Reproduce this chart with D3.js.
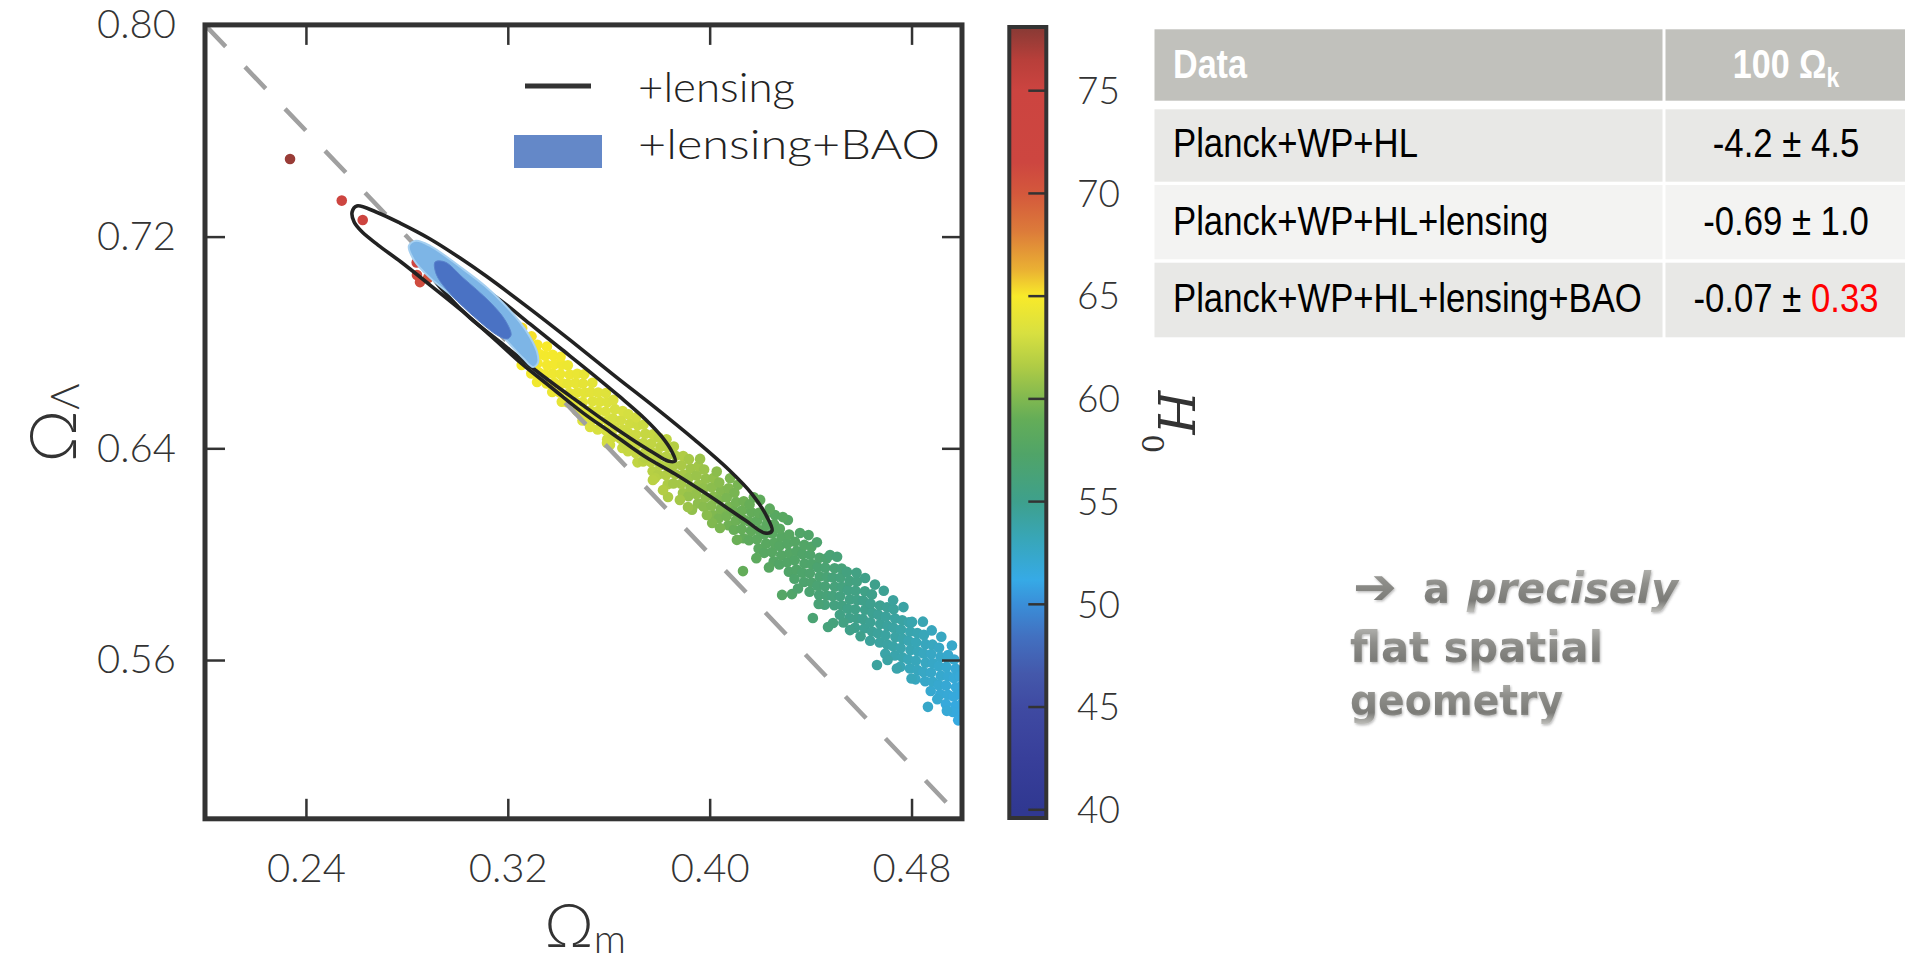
<!DOCTYPE html>
<html>
<head>
<meta charset="utf-8">
<script src="https://cdn.jsdelivr.net/npm/d3@7"></script>
<style>
  html, body { margin: 0; padding: 0; background: #ffffff; overflow: hidden; }
  svg { display: block; }
</style>
</head>
<body>
<svg id="fig" width="1905" height="964"></svg>
<script>
// ---------- data ----------
const xTicks = [0.24, 0.32, 0.40, 0.48];
const yTicks = [0.56, 0.64, 0.72, 0.80];
const h0Ticks = [40, 45, 50, 55, 60, 65, 70, 75];

// colour map of the H0 colour bar (value -> colour)
const h0Stops  = [40, 42.5, 45, 46.6, 48.4, 50, 51.2, 53.2, 55, 57.3, 59, 60, 61.6, 63.2, 65, 66.3, 68.2, 70, 71.5, 75, 76.5, 78];
const h0Colors = ['#303891','#383f9a','#3f4aa2','#4458ab','#4270c0','#3a8ed8','#36aae6','#38a6b8','#3ea08c','#50a468','#64ad58','#80b850','#b0cc45','#d8e040','#f8ea2a','#eab033','#dc7a3a','#d4583c','#cd4640','#cc4440','#b83f3a','#8a3a35'];

// MCMC samples: [Omega_m, Omega_Lambda, H0]
const samples = [
 [0.2337,0.7493,77.5],[0.2542,0.7336,73.0],[0.2625,0.7263,72.5],[0.2839,0.7102,72.0],[0.2840,0.7055,71.2],[0.2852,0.7028,71.0],[0.2884,0.7044,70.5],
 [0.3255,0.6715,64.9],[0.3264,0.6750,65.1],[0.3258,0.6785,65.2],[0.3266,0.6820,65.0],[0.3257,0.6855,65.3],
 [0.3293,0.6683,64.7],[0.3286,0.6718,64.9],[0.3295,0.6753,65.0],[0.3288,0.6788,65.1],[0.3294,0.6823,65.2],
 [0.3316,0.6651,64.6],[0.3324,0.6686,64.8],[0.3318,0.6721,64.9],[0.3325,0.6756,65.0],[0.3317,0.6791,65.1],
 [0.3354,0.6645,64.4],[0.3347,0.6680,64.6],[0.3356,0.6715,64.7],[0.3348,0.6750,64.8],[0.3355,0.6785,65.0],
 [0.3376,0.6613,64.3],[0.3384,0.6648,64.4],[0.3377,0.6683,64.5],[0.3385,0.6718,64.7],[0.3378,0.6753,64.8],
 [0.3414,0.6576,64.0],[0.3407,0.6611,64.2],[0.3416,0.6646,64.3],[0.3408,0.6681,64.4],[0.3415,0.6716,64.5],[0.3409,0.6746,64.7],
 [0.3436,0.6574,63.9],[0.3444,0.6609,64.0],[0.3437,0.6644,64.1],[0.3445,0.6679,64.3],[0.3438,0.6714,64.4],
 [0.3474,0.6542,63.7],[0.3467,0.6577,63.9],[0.3476,0.6612,64.0],[0.3468,0.6647,64.1],[0.3475,0.6682,64.2],
 [0.3496,0.6505,63.5],[0.3504,0.6540,63.7],[0.3497,0.6575,63.8],[0.3505,0.6610,63.9],[0.3498,0.6645,64.0],[0.3503,0.6680,64.1],
 [0.3534,0.6508,63.4],[0.3527,0.6543,63.5],[0.3536,0.6578,63.6],[0.3528,0.6613,63.8],[0.3535,0.6648,63.9],
 [0.3556,0.6471,63.2],[0.3564,0.6506,63.4],[0.3557,0.6541,63.5],[0.3565,0.6576,63.6],[0.3558,0.6611,63.7],
 [0.3594,0.6434,63.0],[0.3587,0.6469,63.2],[0.3596,0.6504,63.3],[0.3588,0.6539,63.4],[0.3595,0.6574,63.5],[0.3589,0.6609,63.6],
 [0.3616,0.6443,62.9],[0.3624,0.6478,63.0],[0.3617,0.6513,63.1],[0.3625,0.6548,63.2],[0.3618,0.6583,63.4],
 [0.3654,0.6401,62.6],[0.3647,0.6436,62.8],[0.3656,0.6471,62.9],[0.3648,0.6506,63.0],[0.3655,0.6541,63.2],
 [0.3676,0.6389,62.5],[0.3684,0.6424,62.7],[0.3677,0.6459,62.8],[0.3685,0.6494,62.9],[0.3678,0.6529,63.1],
 [0.3714,0.6347,62.3],[0.3707,0.6382,62.5],[0.3716,0.6417,62.6],[0.3708,0.6452,62.7],[0.3715,0.6487,62.8],[0.3709,0.6517,63.0],
 [0.3736,0.6350,62.1],[0.3744,0.6385,62.3],[0.3737,0.6420,62.4],[0.3745,0.6455,62.5],[0.3738,0.6490,62.7],
 [0.3774,0.6313,61.9],[0.3767,0.6348,62.1],[0.3776,0.6383,62.2],[0.3768,0.6418,62.3],[0.3775,0.6453,62.5],
 [0.3796,0.6301,61.7],[0.3804,0.6336,61.9],[0.3797,0.6371,62.0],[0.3805,0.6406,62.1],[0.3798,0.6441,62.3],
 [0.3834,0.6264,61.5],[0.3827,0.6299,61.7],[0.3836,0.6334,61.8],[0.3828,0.6369,61.9],[0.3835,0.6404,62.0],[0.3829,0.6434,62.2],
 [0.3856,0.6267,61.2],[0.3864,0.6302,61.4],[0.3857,0.6337,61.5],[0.3865,0.6372,61.6],[0.3858,0.6407,61.8],
 [0.3894,0.6231,61.0],[0.3887,0.6266,61.2],[0.3896,0.6301,61.3],[0.3888,0.6336,61.4],[0.3895,0.6371,61.6],
 [0.3916,0.6219,60.7],[0.3924,0.6254,60.9],[0.3917,0.6289,61.0],[0.3925,0.6324,61.1],[0.3918,0.6359,61.3],
 [0.3954,0.6192,60.5],[0.3947,0.6227,60.7],[0.3956,0.6262,60.8],[0.3948,0.6297,60.9],[0.3955,0.6332,61.1],
 [0.3976,0.6180,60.3],[0.3984,0.6215,60.5],[0.3977,0.6250,60.6],[0.3985,0.6285,60.7],[0.3978,0.6320,60.9],
 [0.4014,0.6148,60.0],[0.4007,0.6183,60.2],[0.4016,0.6218,60.3],[0.4008,0.6253,60.4],[0.4015,0.6288,60.6],
 [0.4036,0.6136,59.7],[0.4044,0.6171,59.9],[0.4037,0.6206,60.0],[0.4045,0.6241,60.1],[0.4038,0.6271,60.3],
 [0.4074,0.6109,59.4],[0.4067,0.6144,59.6],[0.4076,0.6179,59.7],[0.4068,0.6214,59.8],[0.4075,0.6249,60.0],
 [0.4096,0.6092,59.1],[0.4104,0.6127,59.3],[0.4097,0.6162,59.4],[0.4105,0.6197,59.5],[0.4098,0.6232,59.7],
 [0.4134,0.6060,58.8],[0.4127,0.6095,59.0],[0.4136,0.6130,59.1],[0.4128,0.6165,59.2],[0.4135,0.6200,59.4],
 [0.4156,0.6053,58.5],[0.4164,0.6088,58.7],[0.4157,0.6123,58.8],[0.4165,0.6158,58.9],[0.4158,0.6188,59.1],
 [0.4194,0.6021,58.2],[0.4187,0.6056,58.4],[0.4196,0.6091,58.5],[0.4188,0.6126,58.6],[0.4195,0.6156,58.8],
 [0.4216,0.6005,57.9],[0.4224,0.6040,58.1],[0.4217,0.6075,58.2],[0.4225,0.6110,58.3],[0.4218,0.6145,58.5],
 [0.4254,0.5973,57.7],[0.4247,0.6008,57.9],[0.4256,0.6043,58.0],[0.4248,0.6078,58.1],[0.4255,0.6113,58.3],
 [0.4276,0.5961,57.5],[0.4284,0.5996,57.7],[0.4277,0.6031,57.8],[0.4285,0.6066,57.9],[0.4278,0.6096,58.1],
 [0.4314,0.5934,57.3],[0.4307,0.5969,57.5],[0.4316,0.6004,57.6],[0.4308,0.6039,57.7],[0.4315,0.6074,57.9],
 [0.4336,0.5907,57.1],[0.4344,0.5942,57.3],[0.4337,0.5977,57.4],[0.4345,0.6012,57.5],[0.4338,0.6047,57.7],
 [0.4374,0.5895,56.9],[0.4367,0.5930,57.1],[0.4376,0.5965,57.2],[0.4368,0.6000,57.3],[0.4375,0.6035,57.5],
 [0.4396,0.5858,56.7],[0.4404,0.5893,56.9],[0.4397,0.5928,57.0],[0.4405,0.5963,57.1],[0.4398,0.5998,57.2],[0.4403,0.6028,57.4],
 [0.4434,0.5846,56.4],[0.4427,0.5881,56.6],[0.4436,0.5916,56.7],[0.4428,0.5951,56.8],[0.4435,0.5986,57.0],
 [0.4456,0.5809,56.1],[0.4464,0.5844,56.3],[0.4457,0.5879,56.4],[0.4465,0.5914,56.5],[0.4458,0.5949,56.6],[0.4463,0.5984,56.8],
 [0.4494,0.5807,55.8],[0.4487,0.5842,56.0],[0.4496,0.5877,56.1],[0.4488,0.5912,56.2],[0.4495,0.5947,56.4],
 [0.4516,0.5771,55.5],[0.4524,0.5806,55.7],[0.4517,0.5841,55.8],[0.4525,0.5876,55.9],[0.4518,0.5911,56.0],[0.4523,0.5946,56.2],
 [0.4554,0.5759,55.2],[0.4547,0.5794,55.4],[0.4556,0.5829,55.5],[0.4548,0.5864,55.6],[0.4555,0.5899,55.8],
 [0.4576,0.5722,55.0],[0.4584,0.5757,55.2],[0.4577,0.5792,55.3],[0.4585,0.5827,55.4],[0.4578,0.5862,55.5],[0.4583,0.5897,55.7],
 [0.4614,0.5720,54.7],[0.4607,0.5755,54.9],[0.4616,0.5790,55.0],[0.4608,0.5825,55.1],[0.4615,0.5860,55.3],
 [0.4636,0.5673,54.4],[0.4644,0.5708,54.6],[0.4637,0.5743,54.7],[0.4645,0.5778,54.8],[0.4638,0.5813,54.9],[0.4643,0.5848,55.1],
 [0.4674,0.5666,54.2],[0.4667,0.5701,54.4],[0.4676,0.5736,54.5],[0.4668,0.5771,54.6],[0.4675,0.5806,54.8],
 [0.4696,0.5624,53.9],[0.4704,0.5659,54.1],[0.4697,0.5694,54.2],[0.4705,0.5729,54.3],[0.4698,0.5764,54.4],[0.4703,0.5799,54.6],
 [0.4734,0.5617,53.7],[0.4727,0.5652,53.9],[0.4736,0.5687,54.0],[0.4728,0.5722,54.1],[0.4735,0.5757,54.2],[0.4729,0.5792,54.4],
 [0.4756,0.5575,53.4],[0.4764,0.5610,53.6],[0.4757,0.5645,53.7],[0.4765,0.5680,53.8],[0.4758,0.5715,53.9],[0.4763,0.5750,54.1],
 [0.4794,0.5568,53.1],[0.4787,0.5603,53.3],[0.4796,0.5638,53.4],[0.4788,0.5673,53.5],[0.4795,0.5708,53.6],[0.4789,0.5743,53.8],
 [0.4816,0.5527,52.8],[0.4824,0.5562,53.0],[0.4817,0.5597,53.1],[0.4825,0.5632,53.2],[0.4818,0.5667,53.3],[0.4823,0.5702,53.5],
 [0.4854,0.5520,52.5],[0.4847,0.5555,52.7],[0.4856,0.5590,52.8],[0.4848,0.5625,52.9],[0.4855,0.5660,53.0],[0.4849,0.5695,53.2],
 [0.4876,0.5483,52.2],[0.4884,0.5518,52.4],[0.4877,0.5553,52.5],[0.4885,0.5588,52.6],[0.4878,0.5623,52.7],[0.4883,0.5658,52.9],
 [0.4914,0.5471,52.0],[0.4907,0.5506,52.2],[0.4916,0.5541,52.3],[0.4908,0.5576,52.4],[0.4915,0.5611,52.5],[0.4909,0.5646,52.7],
 [0.4936,0.5434,51.7],[0.4944,0.5469,51.9],[0.4937,0.5504,52.0],[0.4945,0.5539,52.1],[0.4938,0.5574,52.2],[0.4943,0.5609,52.4],
 [0.4974,0.5427,51.5],[0.4967,0.5462,51.7],[0.4976,0.5497,51.8],[0.4968,0.5532,51.9],[0.4975,0.5567,52.0],[0.4969,0.5602,52.2],
 [0.4993,0.5399,51.3],[0.4998,0.5434,51.5],[0.4994,0.5469,51.6],[0.4999,0.5504,51.7],[0.4992,0.5539,51.8],
 // sparse samples around the edges of the band
 [0.4081,0.6287,59.9],[0.4200,0.6205,58.6],[0.4259,0.6148,58.0],[0.4310,0.6129,57.7],[0.4358,0.6080,57.4],
 [0.4477,0.5997,56.5],[0.4544,0.5933,55.8],[0.4616,0.5910,55.2],[0.4727,0.5826,54.3],[0.4802,0.5744,53.6],[0.4945,0.5619,52.3],
 [0.3962,0.6360,60.9],[0.4028,0.6312,60.4],[0.4112,0.6262,59.7],[0.4175,0.6215,59.0],[0.4238,0.6172,58.4],[0.4290,0.6140,58.0],
 [0.4392,0.6072,57.3],[0.4425,0.6045,57.0],[0.4505,0.5990,56.3],[0.4582,0.5930,55.6],[0.4655,0.5885,55.0],[0.4690,0.5862,54.7],
 [0.4768,0.5800,54.0],[0.4845,0.5745,53.4],[0.4880,0.5712,53.0],[0.4918,0.5688,52.8],[0.4960,0.5655,52.4],
 [0.4132,0.5936,58.9],[0.4287,0.5846,57.6],[0.4326,0.5849,57.3],[0.4409,0.5759,56.6],[0.4469,0.5725,56.1],[0.4489,0.5740,56.0],
 [0.4663,0.5581,54.3],[0.4556,0.5713,55.2],[0.4865,0.5423,52.5],[0.4964,0.5404,51.6],
 [0.3662,0.6420,62.4],[0.3742,0.6365,61.9],[0.3930,0.6168,60.6],[0.4010,0.6118,60.0],[0.4185,0.5985,58.4],[0.4235,0.5950,57.9],
 [0.4350,0.5870,57.0],[0.4432,0.5812,56.4],[0.4530,0.5742,55.6],[0.4598,0.5690,55.0],[0.4705,0.5600,54.0],[0.4742,0.5568,53.7],
 [0.4800,0.5530,53.1],[0.4902,0.5452,52.2],[0.4940,0.5408,51.9],[0.4985,0.5372,51.4],
 [0.3605,0.6413,62.9],[0.3783,0.6288,61.9],[0.3835,0.6216,61.5],[0.3914,0.6178,60.9],[0.3989,0.6148,60.3],[0.4041,0.6099,59.8],
 [0.4108,0.6054,59.2],[0.3498,0.6518,63.6],[0.3526,0.6481,63.4],[0.3593,0.6420,63.0],[0.3775,0.6280,62.0],[0.3815,0.6242,61.7],[0.3882,0.6205,61.2]
];

// confidence contours (Omega_m, Omega_Lambda)
const lensing95 = [[0.2583,0.7293],[0.2602,0.7316],[0.2678,0.7293],[0.2773,0.7251],[0.2892,0.7191],[0.3011,0.7119],[0.3114,0.7051],[0.3288,0.6927],[0.3451,0.6806],[0.3625,0.6673],[0.3787,0.6552],[0.3942,0.6431],[0.4077,0.6318],[0.4168,0.6227],[0.4227,0.6141],[0.4247,0.6088],[0.4219,0.6080],[0.4140,0.6129],[0.3982,0.6231],[0.3863,0.6303],[0.3740,0.6371],[0.3605,0.6462],[0.3498,0.6534],[0.3375,0.6628],[0.3256,0.6719],[0.3137,0.6821],[0.3019,0.6919],[0.2892,0.7017],[0.2777,0.7104],[0.2686,0.7168],[0.2622,0.7218],[0.2591,0.7255]];
const lensing68 = [[0.2884,0.7104],[0.2931,0.7104],[0.3050,0.7036],[0.3169,0.6961],[0.3288,0.6870],[0.3407,0.6779],[0.3526,0.6688],[0.3645,0.6594],[0.3744,0.6511],[0.3811,0.6443],[0.3851,0.6386],[0.3863,0.6352],[0.3835,0.6352],[0.3772,0.6386],[0.3684,0.6439],[0.3585,0.6503],[0.3486,0.6571],[0.3387,0.6639],[0.3288,0.6711],[0.3169,0.6802],[0.3050,0.6893],[0.2963,0.6976],[0.2904,0.7044]];
const bao95 = [[0.2808,0.7165],[0.2836,0.7184],[0.2892,0.7165],[0.3022,0.7078],[0.3110,0.7013],[0.3181,0.6949],[0.3248,0.6877],[0.3288,0.6821],[0.3316,0.6764],[0.3320,0.6726],[0.3300,0.6707],[0.3260,0.6741],[0.3157,0.6843],[0.3022,0.6945],[0.2892,0.7044],[0.2828,0.7112]];
const bao68 = [[0.2912,0.7104],[0.2951,0.7104],[0.3022,0.7045],[0.3129,0.6953],[0.3189,0.6885],[0.3213,0.6828],[0.3197,0.6813],[0.3157,0.6828],[0.3050,0.6911],[0.2959,0.6998],[0.2916,0.7059]];

// spatially flat models: Omega_m + Omega_Lambda = 1
const flatLine = [[0.2, 0.8], [0.5, 0.5]];

const legendLabels = ['+lensing', '+lensing+BAO'];

const tableHead = ['Data', '100 Ω', 'k'];
const tableData = ['Planck+WP+HL', 'Planck+WP+HL+lensing', 'Planck+WP+HL+lensing+BAO'];
const tableMean = ['-4.2', '-0.69', '-0.07'];
const tableErr  = ['4.5', '1.0', '0.33'];

const noteWords = ['➔', 'a', 'precisely', 'flat spatial', 'geometry'];

// ---------- layout ----------
const svg = d3.select('#fig');
const defs = svg.append('defs');
const X0 = 205, X1 = 962, Y0 = 24.9, Y1 = 818.8;
const x = d3.scaleLinear().domain([0.2, 0.5]).range([X0, X1]);
const y = d3.scaleLinear().domain([0.5, 0.8]).range([Y1, Y0]);
const h0Color = d3.scaleLinear().domain(h0Stops).range(h0Colors).clamp(true);
const tickFont = 'Lato, "Open Sans", sans-serif';

defs.append('clipPath').attr('id', 'plotClip')
  .append('rect').attr('x', X0).attr('y', Y0).attr('width', X1 - X0).attr('height', Y1 - Y0);

const plot = svg.append('g').attr('clip-path', 'url(#plotClip)');

// samples coloured by H0
plot.append('g').selectAll('circle').data(samples).join('circle')
  .attr('cx', d => x(d[0])).attr('cy', d => y(d[1])).attr('r', 5.3)
  .attr('fill', d => h0Color(d[2]));

// flat-universe line
plot.append('path').datum(flatLine)
  .attr('d', d3.line().x(d => x(d[0])).y(d => y(d[1])))
  .attr('fill', 'none').attr('stroke', '#a0a0a0').attr('stroke-width', 4.5)
  .attr('stroke-dasharray', '30,28');

const closed = d3.line().x(d => x(d[0])).y(d => y(d[1])).curve(d3.curveCatmullRomClosed.alpha(0.5));

// +lensing contours
plot.append('g').selectAll('path').data([lensing95, lensing68]).join('path')
  .attr('d', closed).attr('fill', 'none').attr('stroke', '#222').attr('stroke-width', 3.6);

// +lensing+BAO filled contours
plot.append('path').datum(bao95).attr('d', closed)
  .attr('fill', '#7db5e6').attr('stroke', '#a6d0f1').attr('stroke-width', 2);
plot.append('path').datum(bao68).attr('d', closed)
  .attr('fill', '#4a72c4').attr('stroke', '#5a82cc').attr('stroke-width', 1);

// axes with inward ticks
function styleAxis(g) {
  g.select('.domain').remove();
  g.selectAll('.tick line').attr('stroke', '#333').attr('stroke-width', 2.5);
  g.selectAll('.tick text').attr('fill', '#333').style('font-family', tickFont)
    .style('font-weight', 300).style('font-size', '40px');
}
svg.append('g').attr('transform', `translate(0,${Y1})`)
  .call(d3.axisBottom(x).tickValues(xTicks).tickSize(-20).tickPadding(35).tickFormat(d3.format('.2f')))
  .call(styleAxis);
svg.append('g').attr('transform', `translate(${X0},0)`)
  .call(d3.axisLeft(y).tickValues(yTicks).tickSize(-20).tickPadding(29).tickFormat(d3.format('.2f')))
  .call(styleAxis);
svg.append('g').attr('transform', `translate(0,${Y0})`)
  .call(d3.axisTop(x).tickValues(xTicks).tickSize(-20).tickFormat(''))
  .call(styleAxis);
svg.append('g').attr('transform', `translate(${X1},0)`)
  .call(d3.axisRight(y).tickValues(yTicks).tickSize(-20).tickFormat(''))
  .call(styleAxis);

svg.append('rect').attr('x', X0).attr('y', Y0).attr('width', X1 - X0).attr('height', Y1 - Y0)
  .attr('fill', 'none').attr('stroke', '#333').attr('stroke-width', 5);

// axis labels
const labelFont = 'Lato, "DejaVu Sans", sans-serif';
const xl = svg.append('text').attr('x', 585).attr('y', 947).attr('text-anchor', 'middle')
  .attr('fill', '#333').style('font-family', labelFont).style('font-weight', 300).style('font-size', '62px');
xl.append('tspan').text('Ω');
xl.append('tspan').attr('dy', 6).style('font-size', '40px').text('m');

const yl = svg.append('text').attr('transform', 'translate(76,423) rotate(-90)').attr('text-anchor', 'middle')
  .attr('fill', '#333').style('font-family', labelFont).style('font-weight', 300).style('font-size', '66px');
yl.append('tspan').text('Ω');
yl.append('tspan').attr('dy', 3).style('font-size', '40px').text('Λ');

// ---------- colour bar ----------
const CB0 = 27, CB1 = 818, CBX = 1009.3, CBW = 37;
const cy = d3.scaleLinear().domain([39.6, 78.1]).range([CB1, CB0]);
const grad = defs.append('linearGradient').attr('id', 'h0Grad')
  .attr('gradientUnits', 'userSpaceOnUse').attr('x1', 0).attr('x2', 0).attr('y1', CB0).attr('y2', CB1);
grad.selectAll('stop').data(h0Stops.map((v, i) => [v, h0Colors[i]]).reverse()).join('stop')
  .attr('offset', d => Math.max(0, Math.min(1, (cy(d[0]) - CB0) / (CB1 - CB0))))
  .attr('stop-color', d => d[1]);
svg.append('rect').attr('x', CBX).attr('y', CB0).attr('width', CBW).attr('height', CB1 - CB0)
  .attr('fill', 'url(#h0Grad)').attr('stroke', '#333').attr('stroke-width', 4);
svg.append('g').selectAll('line').data(h0Ticks).join('line')
  .attr('x1', CBX + CBW).attr('x2', CBX + CBW - 18).attr('y1', d => cy(d)).attr('y2', d => cy(d))
  .attr('stroke', '#333').attr('stroke-width', 2.5);
svg.append('g').selectAll('text').data(h0Ticks).join('text')
  .attr('x', 1077).attr('y', d => cy(d)).attr('dy', '0.36em').attr('fill', '#333')
  .style('font-family', tickFont).style('font-weight', 300).style('font-size', '37px')
  .text(d => d);
const hl = svg.append('text').attr('transform', 'translate(1158,422) rotate(90)').attr('text-anchor', 'middle')
  .attr('fill', '#333').style('font-family', '"DejaVu Serif", serif');
hl.append('tspan').style('font-size', '50px').style('font-style', 'italic').text('H');
hl.append('tspan').attr('dy', 16).style('font-size', '30px').text('0');

// ---------- legend ----------
const legendFont = 'Lato, "DejaVu Sans", sans-serif';
svg.append('line').attr('x1', 525).attr('x2', 591).attr('y1', 86).attr('y2', 86)
  .attr('stroke', '#333').attr('stroke-width', 5);
svg.append('rect').attr('x', 514).attr('y', 135).attr('width', 88).attr('height', 33).attr('fill', '#6488c8');
svg.append('g').selectAll('text').data(legendLabels).join('text')
  .attr('x', 638).attr('y', (d, i) => i === 0 ? 102 : 159)
  .attr('textLength', (d, i) => i === 0 ? 157 : 302).attr('lengthAdjust', 'spacingAndGlyphs')
  .attr('fill', '#222').style('font-family', legendFont).style('font-weight', 300).style('font-size', '42px')
  .text(d => d);

// ---------- results table ----------
const T = svg.append('g');
const tblFont = '"Liberation Sans", Arial, sans-serif';
const C1 = 1154.5, C2 = 1665.5, CR = 1905, CDIV = 1662.5;
const rowBox = [[29.3, 100.7], [109.3, 181.7], [185, 259.3], [262.7, 337.3]];
const rowFill = ['#c1c1bc', '#e8e8e6', '#f3f3f2', '#e8e8e6'];
rowBox.forEach((r, i) => {
  T.append('rect').attr('x', C1).attr('y', r[0]).attr('width', CDIV - C1).attr('height', r[1] - r[0]).attr('fill', rowFill[i]);
  T.append('rect').attr('x', C2).attr('y', r[0]).attr('width', CR - C2).attr('height', r[1] - r[0]).attr('fill', rowFill[i]);
});
const sx = 0.868;
T.append('text').attr('transform', `translate(1173,78.3) scale(0.853,1)`)
  .attr('fill', '#fff').style('font-family', tblFont).style('font-weight', 700).style('font-size', '40px')
  .text(tableHead[0]);
const hh = T.append('text').attr('transform', `translate(1786,78.3) scale(0.853,1)`).attr('text-anchor', 'middle')
  .attr('fill', '#fff').style('font-family', tblFont).style('font-weight', 700).style('font-size', '40px');
hh.append('tspan').text(tableHead[1]);
hh.append('tspan').attr('dy', 9).style('font-size', '27px').text(tableHead[2]);
const base = [156.7, 235, 311.7];
tableData.forEach((t, i) => {
  T.append('text').attr('transform', `translate(1173,${base[i]}) scale(${sx},1)`)
    .attr('fill', '#000').style('font-family', tblFont).style('font-size', '40px').text(t);
  const v = T.append('text').attr('transform', `translate(1786,${base[i]}) scale(${sx},1)`).attr('text-anchor', 'middle')
    .attr('fill', '#000').style('font-family', tblFont).style('font-size', '40px');
  v.append('tspan').text(tableMean[i] + ' ± ');
  v.append('tspan').attr('fill', i === 2 ? '#ff0000' : '#000').text(tableErr[i]);
});

// ---------- note ----------
const eg = defs.append('linearGradient').attr('id', 'emboss').attr('x1', 0).attr('y1', 0).attr('x2', 0).attr('y2', 1);
[[0, '#bdbdb9'], [0.4, '#8e8e8a'], [0.75, '#7b7b77'], [1, '#c4c4c0']].forEach(s =>
  eg.append('stop').attr('offset', s[0]).attr('stop-color', s[1]));
const sh = defs.append('filter').attr('id', 'soft').attr('x', '-5%').attr('y', '-10%').attr('width', '110%').attr('height', '130%');
sh.append('feDropShadow').attr('dx', 1).attr('dy', 1.5).attr('stdDeviation', 0.8)
  .attr('flood-color', '#444').attr('flood-opacity', 0.35);
const noteFont = '"DejaVu Sans", sans-serif';
const notePos = [[1353, 604, 44, 'normal', 50], [1423, 603, 27, 'normal', 42], [1467, 603, 211, 'italic', 42], [1350, 662, 253, 'normal', 42], [1350, 715, 213, 'normal', 42]];
const N = svg.append('g').attr('filter', 'url(#soft)');
noteWords.forEach((w, i) => {
  const p = notePos[i];
  N.append('text').attr('x', p[0]).attr('y', p[1]).attr('textLength', p[2]).attr('lengthAdjust', 'spacingAndGlyphs')
    .attr('fill', 'url(#emboss)').style('font-family', noteFont).style('font-weight', 700)
    .style('font-style', p[3]).style('font-size', p[4] + 'px').text(w);
});
</script>
</body>
</html>
